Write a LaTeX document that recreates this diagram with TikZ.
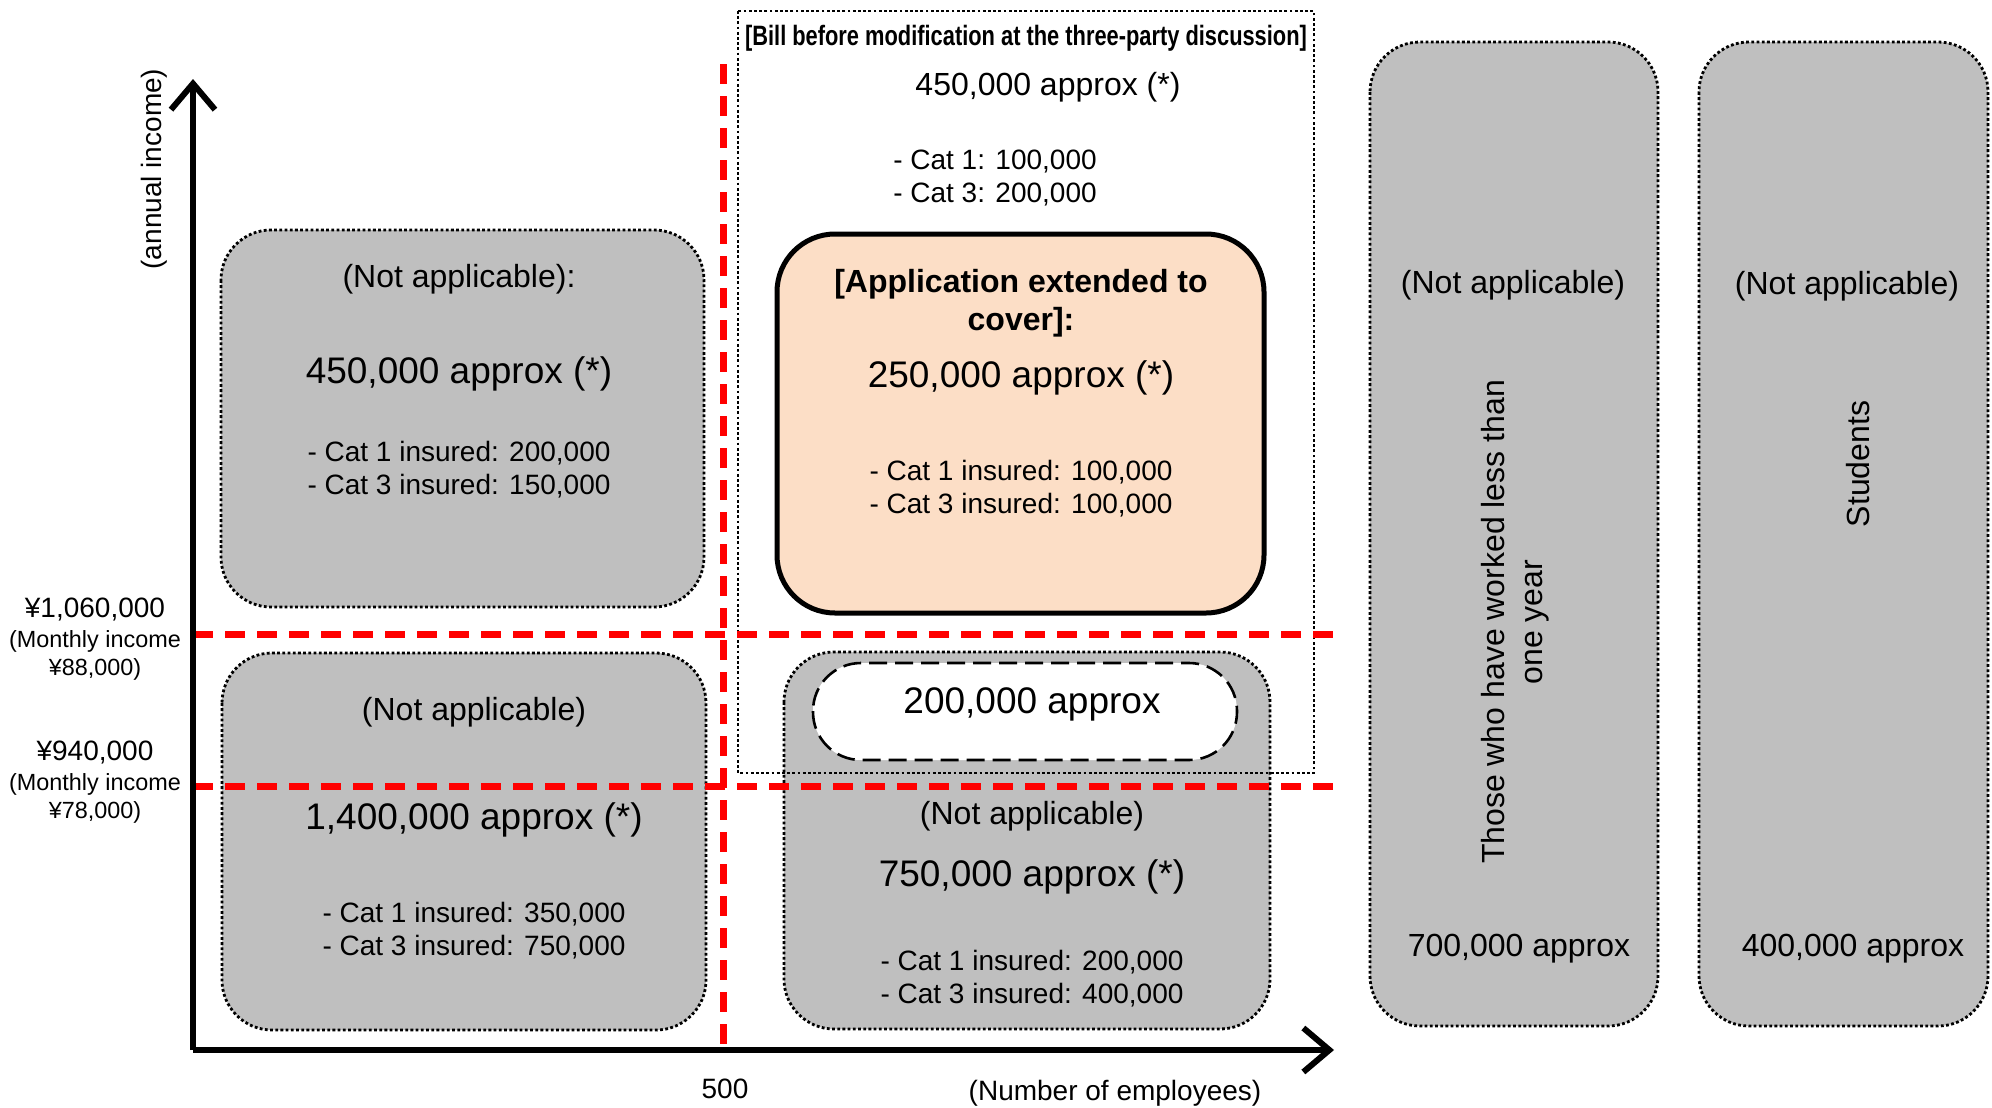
\documentclass[tikz,border=0pt]{standalone}
\usepackage{fontspec}
\setmainfont{Liberation Sans}
\usetikzlibrary{arrows.meta}

\definecolor{boxgray}{RGB}{191,191,191}
\definecolor{peach}{RGB}{252,222,198}
\definecolor{cutred}{RGB}{255,0,0}

\newcommand{\bigtxt}{\fontsize{18.5}{22}\selectfont}
\newcommand{\midtxt}{\fontsize{16}{19}\selectfont}
\newcommand{\smalltxt}{\fontsize{14}{16.5}\selectfont}
\newcommand{\tinytxt}{\fontsize{11.7}{14}\selectfont}

\begin{document}
\begin{tikzpicture}[
                    x=0.5pt,
                    y=-0.5pt,
                    >={Straight Barb[length=13pt,width=22pt]},
                    semithick
                ]
                \tikzstyle{graybox}=[fill=boxgray,draw=black,line width=1.4pt,dash pattern=on 1.4pt off 1.2pt,rounded corners=25pt]
                \tikzstyle{billbox}=[draw=black,line width=1.4pt,dash pattern=on 1.4pt off 1.2pt]
                \tikzstyle{appbox}=[fill=peach,draw=black,line width=2.5pt,rounded corners=29pt]
                \tikzstyle{newbox}=[fill=white,draw=black,line width=1.3pt,dash pattern=on 9pt off 4pt,rounded corners=24pt]
                \tikzstyle{cutline}=[draw=cutred,line width=3.5pt,dash pattern=on 10pt off 6pt]
                \tikzstyle{axis}=[draw=black,line width=3pt,->]
                \tikzstyle{txt}=[inner sep=0pt,align=center]

                \useasboundingbox (0,0) rectangle (1992,1108);

                % boxes
                \draw[graybox] (221,230) rectangle (704,607);
                \draw[graybox] (222,653) rectangle (706,1030);
                \draw[graybox] (784,652) rectangle (1270,1029);
                \draw[graybox] (1370,42) rectangle (1658,1026);
                \draw[graybox] (1699,42) rectangle (1988,1026);
                \draw[appbox] (777,234) rectangle (1264,613);
                \draw[newbox] (813,663) rectangle (1237,760);
                \draw[billbox] (738,11) rectangle (1314,773);

                % axes
                \coordinate (O) at (193,1050);
                \coordinate (ytop) at (193,79);
                \coordinate (xend) at (1334,1050);
                \coordinate (vtop) at (723,64);
                \coordinate (vbot) at (723,1050);
                \coordinate (h1a) at (193,634);
                \coordinate (h1b) at (1334,634);
                \coordinate (h2a) at (193,786);
                \coordinate (h2b) at (1334,786);

                \draw[cutline] (vtop) -- (vbot);
                \draw[cutline] (h1a) -- (h1b);
                \draw[cutline] (h2a) -- (h2b);
                \draw[axis] (O) -- (ytop);
                \draw[axis] (O) -- (xend);

                % axis labels
                \node[txt,rotate=90,font=\smalltxt] (yname) at (154,169) {(annual income)};
                \node[txt,font=\smalltxt] (xname) at (1115,1093) {(Number of employees)};
                \node[txt,font=\smalltxt] (five) at (725,1089) {500};
                \node[txt,font=\smalltxt] (lim1) at (95,610) {¥1,060,000};
                \node[txt,font=\tinytxt] (lim1m) at (95,655) {(Monthly income\\¥88,000)};
                \node[txt,font=\smalltxt] (lim2) at (95,753) {¥940,000};
                \node[txt,font=\tinytxt] (lim2m) at (95,798) {(Monthly income\\¥78,000)};

                % bill box
                \node[txt] (billhead) at (1026,38) {\scalebox{0.78}[1]{\fontsize{14}{16}\selectfont\bfseries [Bill before modification at the three-party discussion]}};
                \node[txt,font=\midtxt] (billnum) at (1048,87) {450,000 approx (*)};
                \node[txt,font=\smalltxt,align=left] (billcat) at (995,178) {- Cat 1: 100,000\\- Cat 3: 200,000};

                % top left
                \node[txt,font=\midtxt] (tlna) at (459,279) {(Not applicable):};
                \node[txt,font=\bigtxt] (tlnum) at (459,374) {450,000 approx (*)};
                \node[txt,font=\smalltxt] (tlcat) at (459,470) {- Cat 1 insured: 200,000\\- Cat 3 insured: 150,000};

                % application extended
                \node[txt,font=\midtxt\bfseries] (apphead) at (1021,303) {[Application extended to\\cover]:};
                \node[txt,font=\bigtxt] (appnum) at (1021,378) {250,000 approx (*)};
                \node[txt,font=\smalltxt] (appcat) at (1021,489) {- Cat 1 insured: 100,000\\- Cat 3 insured: 100,000};

                % bottom left
                \node[txt,font=\midtxt] (blna) at (474,712) {(Not applicable)};
                \node[txt,font=\bigtxt] (blnum) at (474,820) {1,400,000 approx (*)};
                \node[txt,font=\smalltxt] (blcat) at (474,931) {- Cat 1 insured: 350,000\\- Cat 3 insured: 750,000};

                % bottom middle
                \node[txt,font=\bigtxt] (newnum) at (1032,704) {200,000 approx};
                \node[txt,font=\midtxt] (bmna) at (1032,816) {(Not applicable)};
                \node[txt,font=\bigtxt] (bmnum) at (1032,877) {750,000 approx (*)};
                \node[txt,font=\smalltxt] (bmcat) at (1032,979) {- Cat 1 insured: 200,000\\- Cat 3 insured: 400,000};

                % right columns
                \node[txt,font=\midtxt] (r1na) at (1513,285) {(Not applicable)};
                \node[txt,font=\midtxt,rotate=90] (r1who) at (1515,622) {Those who have worked less than\\one year};
                \node[txt,font=\midtxt] (r1num) at (1519,949) {700,000 approx};
                \node[txt,font=\midtxt] (r2na) at (1847,286) {(Not applicable)};
                \node[txt,font=\midtxt,rotate=90] (r2who) at (1858,464) {Students};
                \node[txt,font=\midtxt] (r2num) at (1853,949) {400,000 approx};

            \end{tikzpicture}
\end{document}
